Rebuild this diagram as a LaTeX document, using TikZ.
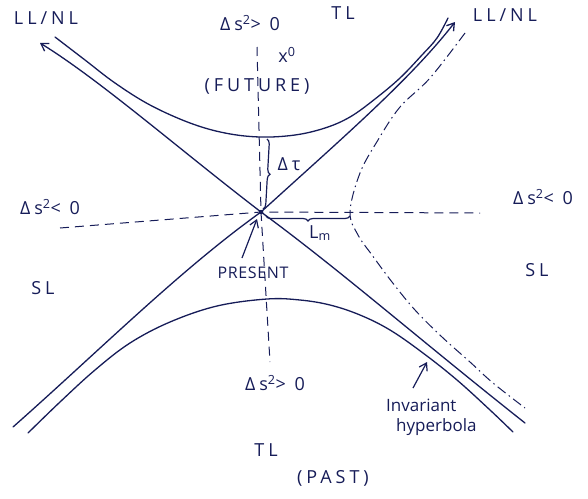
\documentclass[tikz,border=0pt]{standalone}
\usepackage{fontspec}
\setmainfont{Open Sans}
\usetikzlibrary{arrows.meta,decorations.pathreplacing}
\definecolor{ink}{RGB}{22,28,88}
\begin{document}
\begin{tikzpicture}[x=1pt,y=-1pt,
  inkline/.style={draw=ink,line width=1.3pt,line cap=round,line join=round},
  axisline/.style={draw=ink,line width=1pt,dash pattern=on 9pt off 6pt},
  dashdotline/.style={draw=ink,line width=1pt,dash pattern=on 10pt off 4pt on 1.5pt off 4pt},
  lbl/.style={text=ink,font=\fontsize{18}{18}\selectfont\addfontfeature{LetterSpace=22},inner sep=1pt},
  small/.style={text=ink,font=\fontsize{16}{16}\selectfont\addfontfeature{LetterSpace=4},inner sep=1pt},
  arr/.style={-{Straight Barb[length=7pt,width=9pt]}}
]
\useasboundingbox (0,0) rectangle (588,498);

% origin
\coordinate (O) at (261,212);
\fill[ink] (O) circle (2.2pt);

% axes
\coordinate (vtop) at (257,47);
\coordinate (vbot) at (270,362);
\coordinate (hl) at (60,228);
\coordinate (hr) at (480,213);
\draw[axisline] (vtop) -- (O) -- (vbot);
\draw[axisline] (hl) -- (O) -- (hr);

% light cone lines
\coordinate (ulend) at (40,43);
\coordinate (urend) at (455,22);
\coordinate (llend) at (13,427);
\coordinate (lrend) at (525,423);
\draw[inkline,arr] (O) .. controls (180,150) and (100,80) .. (ulend);
\draw[inkline,arr] (O) .. controls (340,140) and (410,80) .. (urend);
\draw[inkline] (O) .. controls (180,270) and (100,350) .. (llend);
\draw[inkline] (O) .. controls (340,270) and (420,340) .. (lrend);

% future hyperbola
\draw[inkline] plot[smooth,tension=0.6] coordinates {(55,37) (85,60) (115,83) (150,105) (190,123) (225,133) (260,137) (295,135) (325,128) (350,117) (375,99) (400,78) (422,55) (437,38) (448,18)};
% past hyperbola
\draw[inkline] plot[smooth,tension=0.6] coordinates {(28,433) (60,402) (95,370) (130,343) (170,322) (217,306) (267,299) (300,300) (330,305) (360,315) (390,330) (423,353) (457,380) (490,410) (513,432)};
% spacelike hyperbola
\draw[dashdotline] plot[smooth,tension=0.6] coordinates {(465,33) (430,78) (400,107) (378,140) (360,173) (350,212) (358,235) (372,255) (392,282) (415,310) (442,337) (470,362) (493,383) (525,408)};

% braces
\coordinate (tautop) at (267,139);
\coordinate (taubot) at (263,209);
\draw[ink,line width=1.2pt,decorate,decoration={brace,amplitude=5pt,mirror}] (taubot) -- (tautop);
\coordinate (lmleft) at (266,216);
\coordinate (lmright) at (350,216);
\draw[ink,line width=1.2pt,decorate,decoration={brace,amplitude=5pt,mirror}] (lmleft) -- (lmright);

% labels
\node[lbl] (llnlL) at (46,18) {LL/NL};
\node[lbl] (llnlR) at (505,15) {LL/NL};
\node[lbl] (tlTop) at (343,13) {TL};
\node[lbl] (dsTop) at (250,23) {Δs\textsuperscript{2}> 0};
\node[lbl] (x0) at (287,55) {x\textsuperscript{0}};
\node[lbl] (future) at (257,86) {(FUTURE)};
\node[lbl] (dtau) at (289,164) {Δτ};
\node[lbl] (dsL) at (50,207) {Δs\textsuperscript{2}< 0};
\node[lbl] (dsR) at (543,197) {Δs\textsuperscript{2}< 0};
\node[lbl] (lm) at (320,233) {L\textsubscript{m}};
\node[lbl] (slL) at (43,288) {SL};
\node[lbl] (slR) at (537,270) {SL};
\node[small] (present) at (253,273) {PRESENT};
\node[lbl] (dsBot) at (275,383) {Δs\textsuperscript{2}> 0};
\node[lbl] (tlBot) at (266,450) {TL};
\node[lbl] (past) at (333,478) {(PAST)};
\node[small,align=left,anchor=north west,font=\fontsize{17}{20}\selectfont] (inv) at (385,398) {Invariant\\\hspace*{10pt}hyperbola};

% pointer arrows
\coordinate (presentTip) at (257,219);
\coordinate (presentTail) at (242,258);
\draw[ink,line width=1.2pt,arr] (presentTail) -- (presentTip);
\coordinate (invTip) at (427,362);
\coordinate (invTail) at (413,388);
\draw[ink,line width=1.2pt,arr] (invTail) -- (invTip);
\end{tikzpicture}
\end{document}
